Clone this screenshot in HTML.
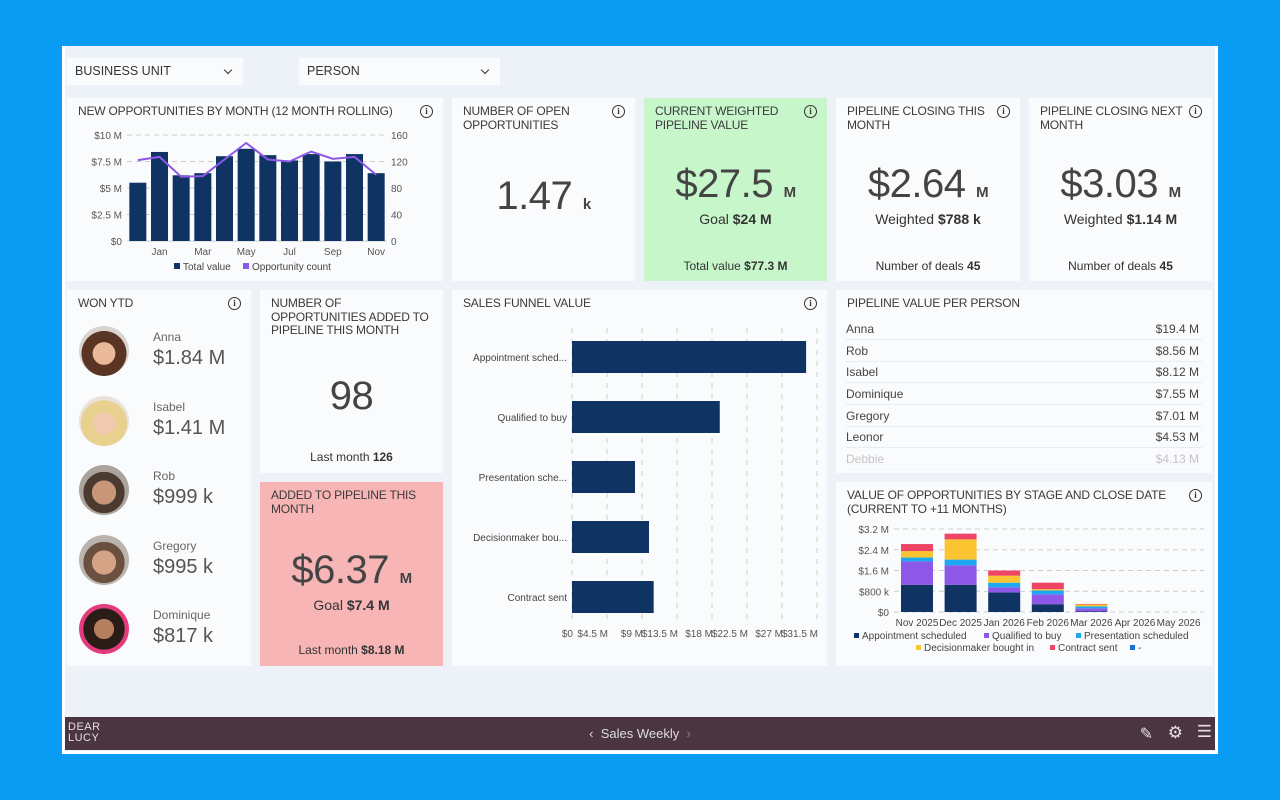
<!DOCTYPE html>
<html><head><meta charset="utf-8">
<style>
*{box-sizing:border-box;margin:0;padding:0}
body{width:1280px;height:800px;background:#0a9cf2;font-family:"Liberation Sans",sans-serif;color:#333;position:relative;overflow:hidden}
#dash{position:absolute;left:62px;top:46px;width:1156px;height:708px;background:#edf2f8;border:3px solid #fff;border-top:none}
.p{position:absolute;background:#fafbfd}
.t{position:absolute;left:11px;top:7px;font-size:12px;line-height:13.5px;color:#3a3a3a;text-transform:uppercase;letter-spacing:-0.2px}
.i{position:absolute;right:10px;top:7px;width:13px;height:13px;border:1.5px solid #333;border-radius:50%;font-size:9px;font-weight:bold;text-align:center;line-height:10px;font-family:"Liberation Serif",serif}
.big{position:absolute;left:0;right:0;text-align:center;font-weight:normal;color:#444;letter-spacing:-0.5px}
.sub{position:absolute;left:0;right:0;text-align:center;font-size:14px;color:#333}
.foot{position:absolute;left:0;right:0;text-align:center;font-size:12px;color:#333}
.dd{position:absolute;top:12px;height:27px;background:#fafbfd;font-size:12.5px;line-height:27px;padding-left:8px;color:#333}
.dd:after{content:"";position:absolute;right:12px;top:9px;width:5px;height:5px;border-right:1.5px solid #333;border-bottom:1.5px solid #333;transform:rotate(45deg)}
.av{position:absolute;left:12px;width:50px;height:50px;border-radius:50%;overflow:hidden}
.nm{position:absolute;left:86px;font-size:12px;color:#666}
.vl{position:absolute;left:86px;font-size:20px;color:#555}
.row{position:absolute;left:10px;right:10px;height:22px;border-bottom:1px solid #e8ebef;font-size:12px;line-height:22px;color:#444}
.row span{position:absolute;right:3px}
</style></head><body>
<div id="dash">
<div class="dd" style="left:2px;width:176px">BUSINESS UNIT</div>
<div class="dd" style="left:234px;width:201px">PERSON</div>

<div class="p" style="left:2px;top:52px;width:376px;height:183px">
<div class="t">New opportunities by month (12 month rolling)</div><div class="i">i</div>
<svg id="c1" width="376" height="183" style="position:absolute;left:0;top:0"></svg>
</div>

<div class="p" style="left:387px;top:52px;width:183px;height:183px">
<div class="t">Number of open<br>opportunities</div><div class="i">i</div>
<div class="big" style="top:76px;font-size:40px">1.47 <span style="font-size:15px;font-weight:bold">k</span></div>
</div>

<div class="p" style="left:579px;top:52px;width:183px;height:183px;background:#c8f6cb">
<div class="t">Current weighted<br>pipeline value</div><div class="i">i</div>
<div class="big" style="top:64px;font-size:40px">$27.5 <span style="font-size:15px;font-weight:bold">M</span></div>
<div class="sub" style="top:113px">Goal <b>$24 M</b></div>
<div class="foot" style="top:161px">Total value <b>$77.3 M</b></div>
</div>

<div class="p" style="left:771px;top:52px;width:184px;height:183px">
<div class="t">Pipeline closing this<br>month</div><div class="i">i</div>
<div class="big" style="top:64px;font-size:40px">$2.64 <span style="font-size:15px;font-weight:bold">M</span></div>
<div class="sub" style="top:113px">Weighted <b>$788 k</b></div>
<div class="foot" style="top:161px">Number of deals <b>45</b></div>
</div>

<div class="p" style="left:964px;top:52px;width:183px;height:183px">
<div class="t">Pipeline closing next<br>month</div><div class="i">i</div>
<div class="big" style="top:64px;font-size:40px">$3.03 <span style="font-size:15px;font-weight:bold">M</span></div>
<div class="sub" style="top:113px">Weighted <b>$1.14 M</b></div>
<div class="foot" style="top:161px">Number of deals <b>45</b></div>
</div>

<div class="p" style="left:2px;top:244px;width:184px;height:376px">
<div class="t">Won YTD</div><div class="i">i</div>
<div class="av" style="top:36px;background:radial-gradient(circle at 50% 55%,#e9b99a 0 30%,#5a3524 31% 60%,#d9d4cf 61%)"></div>
<div class="nm" style="top:40px">Anna</div><div class="vl" style="top:57px">$1.84 M</div>
<div class="av" style="top:106px;background:radial-gradient(circle at 50% 55%,#f0c9ae 0 30%,#e8d08e 31% 62%,#e8e2da 63%)"></div>
<div class="nm" style="top:110px">Isabel</div><div class="vl" style="top:127px">$1.41 M</div>
<div class="av" style="top:175px;background:radial-gradient(circle at 50% 55%,#c9967a 0 32%,#4a3a30 33% 55%,#aaa49c 56%)"></div>
<div class="nm" style="top:179px">Rob</div><div class="vl" style="top:196px">$999 k</div>
<div class="av" style="top:245px;background:radial-gradient(circle at 50% 55%,#d4a284 0 32%,#6b5040 33% 55%,#b9b5ae 56%)"></div>
<div class="nm" style="top:249px">Gregory</div><div class="vl" style="top:266px">$995 k</div>
<div class="av" style="top:314px;background:radial-gradient(circle at 50% 50%,#b57f60 0 28%,#2a1c16 29% 58%,#e33b7b 59%)"></div>
<div class="nm" style="top:318px">Dominique</div><div class="vl" style="top:335px">$817 k</div>
</div>

<div class="p" style="left:195px;top:244px;width:183px;height:183px">
<div class="t">Number of<br>opportunities added to<br>pipeline this month</div>
<div class="big" style="top:84px;font-size:40px">98</div>
<div class="foot" style="top:160px">Last month <b>126</b></div>
</div>

<div class="p" style="left:195px;top:436px;width:183px;height:184px;background:#f8b5b6">
<div class="t">Added to pipeline this<br>month</div>
<div class="big" style="top:66px;font-size:40px">$6.37 <span style="font-size:15px;font-weight:bold">M</span></div>
<div class="sub" style="top:115px">Goal <b>$7.4 M</b></div>
<div class="foot" style="top:161px">Last month <b>$8.18 M</b></div>
</div>

<div class="p" style="left:387px;top:244px;width:375px;height:376px">
<div class="t">Sales funnel value</div><div class="i">i</div>
<svg id="c2" width="375" height="376" style="position:absolute;left:0;top:0"></svg>
</div>

<div class="p" style="left:771px;top:244px;width:376px;height:183px;overflow:hidden">
<div class="t">Pipeline value per person</div>
<div class="row" style="top:28px">Anna<span>$19.4 M</span></div>
<div class="row" style="top:50px">Rob<span>$8.56 M</span></div>
<div class="row" style="top:71px">Isabel<span>$8.12 M</span></div>
<div class="row" style="top:93px">Dominique<span>$7.55 M</span></div>
<div class="row" style="top:115px">Gregory<span>$7.01 M</span></div>
<div class="row" style="top:136px">Leonor<span>$4.53 M</span></div>
<div class="row" style="top:158px;opacity:.3">Debbie<span>$4.13 M</span></div>
</div>

<div class="p" style="left:771px;top:436px;width:376px;height:184px">
<div class="t">Value of opportunities by stage and close date<br>(current to +11 months)</div><div class="i">i</div>
<svg id="c3" width="376" height="184" style="position:absolute;left:0;top:0"></svg>
</div>

<div style="position:absolute;left:0;top:671px;width:1150px;height:33px;background:#4a3540;color:#e8e0e4">
<div style="position:absolute;left:3px;top:5px;font-size:11px;line-height:11px;letter-spacing:0.5px">DEAR<br>LUCY</div>
<div style="position:absolute;left:0;right:0;top:9px;text-align:center;font-size:13px;color:#ddd">‹&nbsp; Sales Weekly &nbsp;<span style="color:#888">›</span></div>
<div style="position:absolute;right:62px;top:7px;font-size:16px">✎</div>
<div style="position:absolute;right:32px;top:6px;font-size:17px">⚙</div>
<div style="position:absolute;right:3px;top:5px;font-size:17px">☰</div>
</div>
</div>
<script>
const NS="http://www.w3.org/2000/svg";
function mk(svg,tag,attrs,txt){const e=document.createElementNS(NS,tag);for(const k in attrs)e.setAttribute(k,attrs[k]);if(txt!==undefined)e.textContent=txt;svg.appendChild(e);return e;}

// Chart 1
const c1Months=["Dec","Jan","Feb","Mar","Apr","May","Jun","Jul","Aug","Sep","Oct","Nov"];
const c1Values=[5.5,8.4,6.2,6.4,8.0,8.7,8.1,7.6,8.2,7.5,8.2,6.4];
const c1Counts=[122,127,97,98,123,148,123,120,135,124,127,100];
const c1LeftTicks=["$0","$2.5 M","$5 M","$7.5 M","$10 M"];
const c1RightTicks=["0","40","80","120","160"];
(function(){
const s=document.getElementById('c1');
const y0=143,y1=37,x0=60,x1=320;
const yv=v=>y0-(v/10)*(y0-y1), yc=v=>y0-(v/160)*(y0-y1);
const step=(x1-x0)/c1Months.length, xc=i=>x0+step*(i+0.5);
c1LeftTicks.forEach((t,i)=>{const y=y0-i*(y0-y1)/4;
 let g=mk(s,'line',{x1:x0,x2:x1,y1:y,y2:y,stroke:'#ccc','stroke-dasharray':i?'5,4':'',});
 
 let a=mk(s,'text',{x:x0-5,y:y+4,'text-anchor':'end','font-size':10,fill:'#555'},t);
 
 let b=mk(s,'text',{x:x1+4,y:y+4,'font-size':10,fill:'#555'},c1RightTicks[i]);
 });
c1Values.forEach((v,i)=>{let r=mk(s,'rect',{x:xc(i)-8.5,y:yv(v),width:17,height:y0-yv(v),fill:'#0f3464'});
 
 if(i%2){let t=mk(s,'text',{x:xc(i),y:y0+14,'text-anchor':'middle','font-size':10,fill:'#555'},c1Months[i]);
 }});
let l=mk(s,'polyline',{points:c1Counts.map((c,i)=>xc(i)+','+yc(c)).join(' '),fill:'none',stroke:'#8d58e8','stroke-width':2});

let lg=mk(s,'rect',{x:107,y:165,width:6,height:6,fill:'#0f3464'});
let lt=mk(s,'text',{x:116,y:172,'font-size':10,fill:'#444'},'Total value');
let lg2=mk(s,'rect',{x:176,y:165,width:6,height:6,fill:'#8d58e8'});
let lt2=mk(s,'text',{x:185,y:172,'font-size':10,fill:'#444'},'Opportunity count');
})();

// Chart 2 funnel
const c2Stages=["Appointment sched...","Qualified to buy","Presentation sche...","Decisionmaker bou...","Contract sent"];
const c2Values=[30.1,19.0,8.1,9.9,10.5];
const c2Ticks=["$0","$4.5 M","$9 M","$13.5 M","$18 M","$22.5 M","$27 M","$31.5 M"];
(function(){
const s=document.getElementById('c2');
const x0=120,px=35/4.5,top=38,bot=330;
const xv=v=>x0+v*px;
c2Ticks.forEach((t,i)=>{const x=x0+i*35;
 let g=mk(s,'line',{x1:x,x2:x,y1:top,y2:bot,stroke:'#ccc','stroke-dasharray':'5,6'});
 let a=mk(s,'text',{x:x+1,y:bot+17,'text-anchor':'end','font-size':10,fill:'#555'},t);});
c2Stages.forEach((n,i)=>{const cy=67+i*60;
 let r=mk(s,'rect',{x:x0,y:cy-16,width:xv(c2Values[i])-x0,height:32,fill:'#0f3464'});
 let t=mk(s,'text',{x:x0-5,y:cy+4,'text-anchor':'end','font-size':10,fill:'#444'},n);});
})();

// Chart 3 stacked
const c3Months=["Nov 2025","Dec 2025","Jan 2026","Feb 2026","Mar 2026","Apr 2026","May 2026"];
const c3Appt=[1.05,1.05,0.75,0.3,0.02,0,0];
const c3Qual=[0.9,0.75,0.2,0.38,0.12,0,0];
const c3Pres=[0.15,0.22,0.18,0.15,0.08,0,0];
const c3Dec=[0.25,0.78,0.27,0.05,0.07,0,0];
const c3Contract=[0.27,0.22,0.2,0.25,0.02,0,0];
const c3Ticks=["$0","$800 k","$1.6 M","$2.4 M","$3.2 M"];
(function(){
const s=document.getElementById('c3');
const y0=130,y1=47,x0=58,x1=368;
const ys=v=>(v/3.2)*(y0-y1);
c3Ticks.forEach((t,i)=>{const y=y0-i*(y0-y1)/4;
 let g=mk(s,'line',{x1:x0,x2:x1,y1:y,y2:y,stroke:'#ccc','stroke-dasharray':'5,4'});
 let a=mk(s,'text',{x:x0-5,y:y+4,'text-anchor':'end','font-size':10,fill:'#555'},t);});
const series=[[c3Appt,'#0f3464'],[c3Qual,'#8d58e8'],[c3Pres,'#1ea8f0'],[c3Dec,'#fbc531'],[c3Contract,'#ee4466']];
c3Months.forEach((m,i)=>{const cx=81+i*43.6;let acc=0;
 series.forEach(([arr,col])=>{const h=ys(arr[i]);if(h>0){let r=mk(s,'rect',{x:cx-16,y:y0-ys(acc)-h,width:32,height:h,fill:col});}acc+=arr[i];});
 let t=mk(s,'text',{x:cx,y:y0+14,'text-anchor':'middle','font-size':10,fill:'#444'},m);});
const leg=[["Appointment scheduled",'#0f3464',18,157],["Qualified to buy",'#8d58e8',148,157],["Presentation scheduled",'#1ea8f0',240,157],["Decisionmaker bought in",'#fbc531',80,169],["Contract sent",'#ee4466',214,169],["-",'#1a6fd0',294,169]];
leg.forEach(([n,c,x,y])=>{let r=mk(s,'rect',{x:x,y:y-6,width:5,height:5,fill:c});
 let t=mk(s,'text',{x:x+8,y:y,'font-size':10,fill:'#444'},n);});
})();
</script>
</body></html>
